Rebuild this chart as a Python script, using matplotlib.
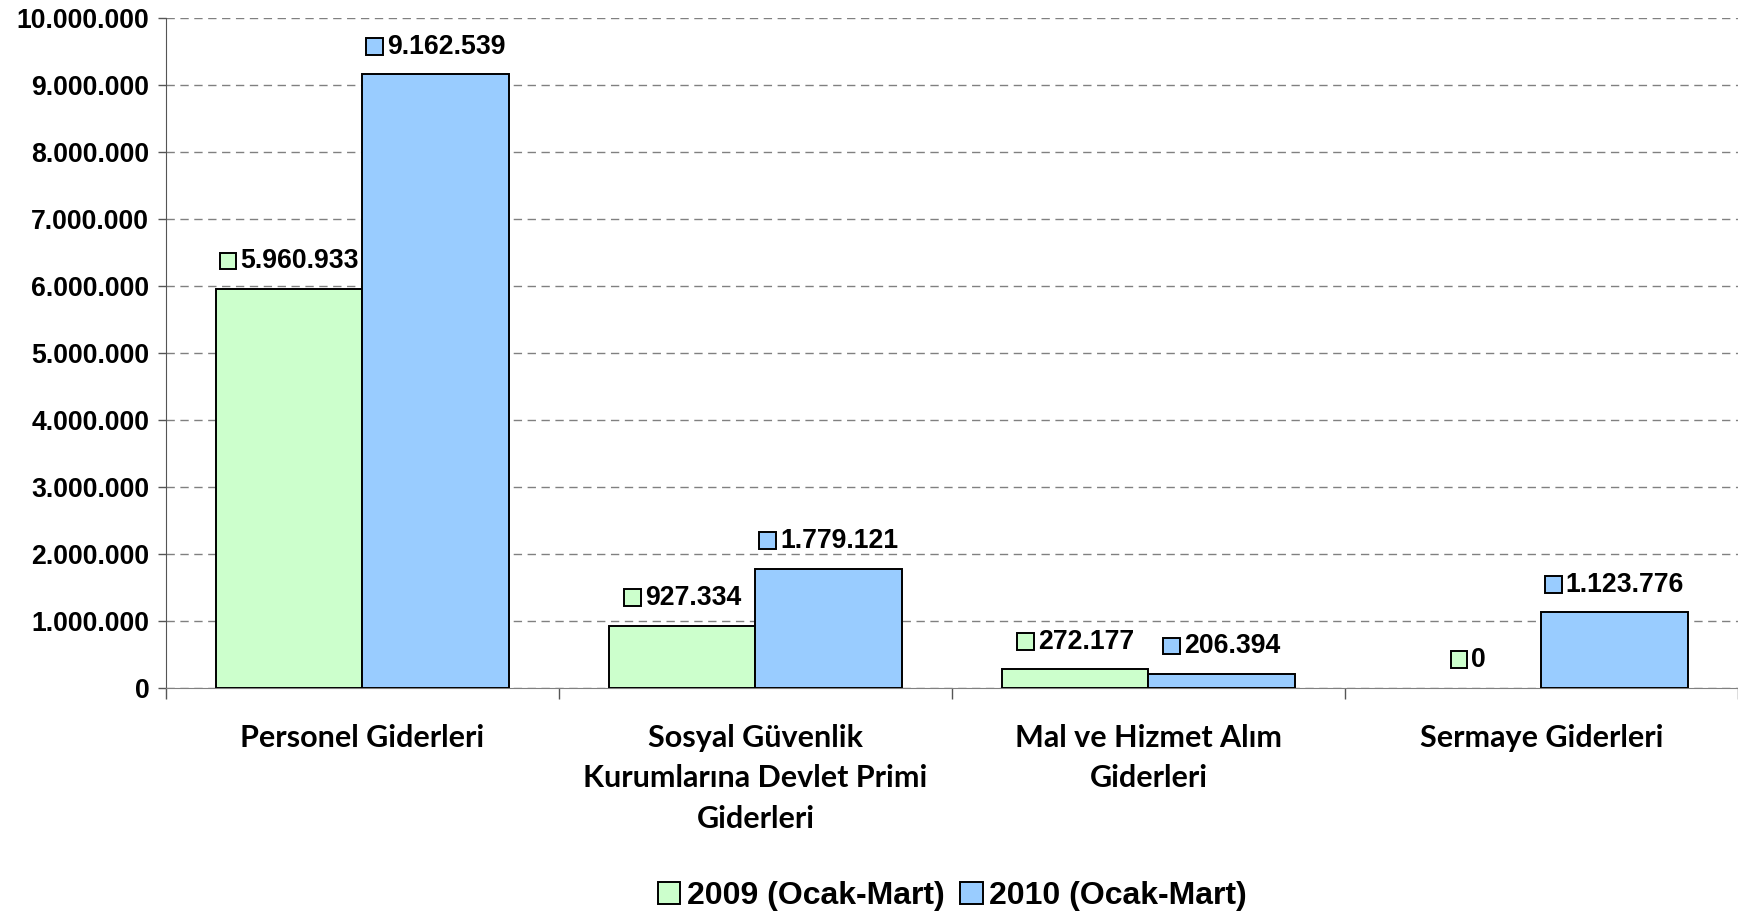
import numpy as np
import matplotlib
matplotlib.use("Agg")
import matplotlib.pyplot as plt
from matplotlib.patches import Rectangle
from matplotlib.offsetbox import DrawingArea, TextArea, HPacker, AnnotationBbox

plt.rcParams['font.family'] = ['Liberation Sans', 'DejaVu Sans']

# Chart data
categories = ['Personel Giderleri',
              'Sosyal Güvenlik\nKurumlarına Devlet Primi\nGiderleri',
              'Mal ve Hizmet Alım\nGiderleri',
              'Sermaye Giderleri']
values_2009 = [5960933, 927334, 272177, 0]
values_2010 = [9162539, 1779121, 206394, 1123776]
series_names = ['2009 (Ocak-Mart)', '2010 (Ocak-Mart)']
y_ticks = [0, 1000000, 2000000, 3000000, 4000000, 5000000,
           6000000, 7000000, 8000000, 9000000, 10000000]

color_2009 = '#CCFFCC'
color_2010 = '#99CCFF'


def fmt(v):
    return f"{int(v):,}".replace(",", ".")


def add_value_label(ax, x, v, color):
    # small coloured key square followed by the value, like Excel
    s = 12
    da = DrawingArea(s, s, 0, 0)
    da.add_artist(Rectangle((0, 0), s, s, facecolor=color,
                            edgecolor='black', linewidth=1.4))
    ta = TextArea(fmt(v), textprops=dict(fontsize=19.2, fontweight='bold'))
    box = HPacker(children=[da, ta], align='center', pad=0, sep=3)
    ab = AnnotationBbox(box, (x, v), xybox=(0, 20), xycoords='data',
                        boxcoords='offset points', box_alignment=(0.5, 0.5),
                        frameon=False, pad=0)
    ax.add_artist(ab)


fig = plt.figure(figsize=(17.38, 9.18), dpi=100)
ax = fig.add_axes([0.0955, 0.251, 0.9045, 0.729])

x = np.arange(len(categories))
w = 0.372
bars1 = ax.bar(x - w / 2, values_2009, w, color=color_2009, edgecolor='black',
               linewidth=1.4, label=series_names[0], zorder=3)
bars2 = ax.bar(x + w / 2, values_2010, w, color=color_2010, edgecolor='black',
               linewidth=1.4, label=series_names[1], zorder=3)
# zero-height bars show nothing in the original
for b, v in zip(bars1, values_2009):
    if v == 0:
        b.set_linewidth(0)

for i in range(len(categories)):
    add_value_label(ax, x[i] - w / 2, values_2009[i], color_2009)
    add_value_label(ax, x[i] + w / 2, values_2010[i], color_2010)

ax.set_xlim(-0.5, len(categories) - 0.5)
ax.set_ylim(0, 10000000)
ax.set_yticks(y_ticks)
ax.set_yticklabels([fmt(t) for t in y_ticks], fontsize=19.2, fontweight='bold')
ax.tick_params(axis='y', length=6, width=1, color='#555555', pad=6)

# category boundaries get the tick marks, centres get the labels
ax.set_xticks(np.arange(len(categories) + 1) - 0.5)
ax.set_xticklabels([])
ax.tick_params(axis='x', which='major', length=8, width=1, color='#555555', direction='out')
ax.set_xticks(x, minor=True)
ax.set_xticklabels(categories, minor=True, fontsize=22, fontfamily='Lato',
                   fontweight='bold', linespacing=1.55, va='top')
ax.tick_params(axis='x', which='minor', length=0, pad=26)

ax.grid(axis='y', color='#808080', linestyle=(0, (6, 4)), linewidth=1, zorder=0)
ax.spines['top'].set_visible(False)
ax.spines['right'].set_visible(False)
ax.spines['left'].set_color('#555555')
ax.spines['bottom'].set_color('#808080')

fig.legend(handles=[bars1, bars2], labels=series_names, loc='center',
           bbox_to_anchor=(0.548, 0.024), ncol=2, frameon=False,
           prop=dict(size=23, weight='bold'), handlelength=0.7,
           handleheight=0.7, handletextpad=0.2, columnspacing=0.5,
           borderaxespad=0)

fig.savefig('out.png', dpi=100)
